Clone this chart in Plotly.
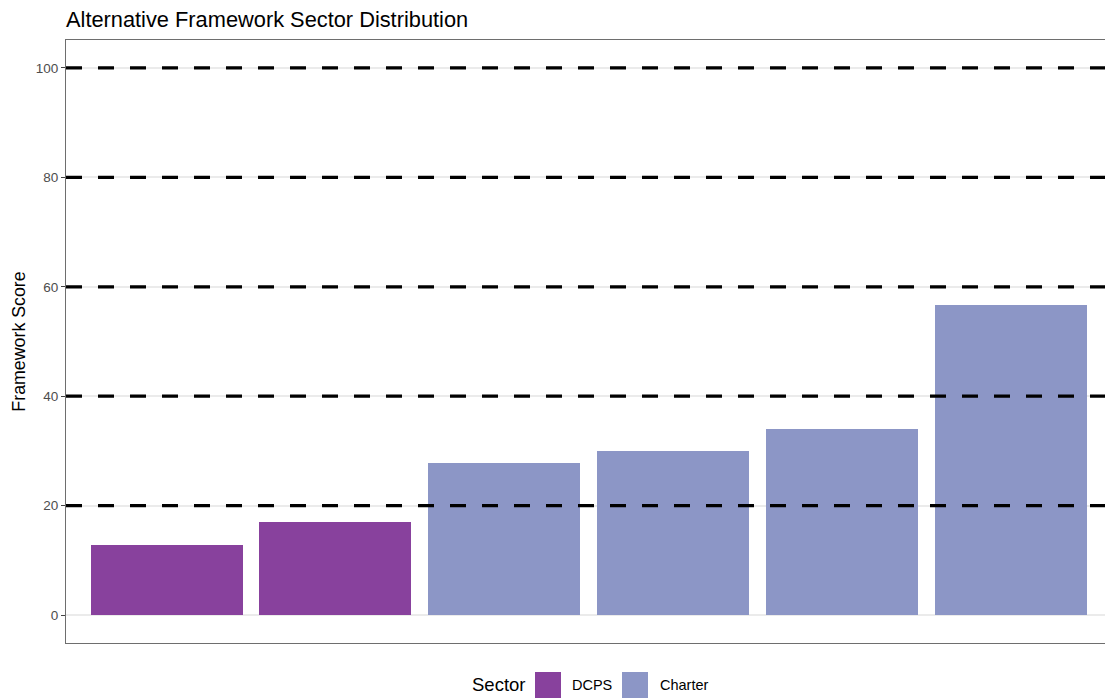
import plotly.graph_objects as go

# datos
escuelas = ["E1", "E2", "E3", "E4", "E5", "E6"]
puntajes = [12.85, 17.1, 27.8, 30.0, 34.1, 56.6]
sectores = ["DCPS", "DCPS", "Charter", "Charter", "Charter", "Charter"]
umbrales = [20, 40, 60, 80, 100]
y_ticks = [0, 20, 40, 60, 80, 100]

COLORES_SECTOR = {"DCPS": "#88419d", "Charter": "#8c96c6"}

FUENTE = "Liberation Sans, Arial, sans-serif"

fig = go.Figure()
for sector in COLORES_SECTOR:
    idx = [i for i, s in enumerate(sectores) if s == sector]
    fig.add_trace(go.Bar(
        x=[i for i in idx],
        y=[puntajes[i] for i in idx],
        name=sector,
        width=0.9,
        marker=dict(color=COLORES_SECTOR[sector], line=dict(width=0)),
        showlegend=False,
        hovertemplate="<b>" + sector + "</b><br>%{y:.1f}<extra></extra>",
    ))

# lineas de umbral discontinuas
for u in umbrales:
    fig.add_shape(type="line", xref="paper", yref="y", x0=0, x1=1, y0=u, y1=u,
                  line=dict(color="black", width=3.2, dash="16px,16px"), layer="above")

# leyenda manual (abajo, centrada)
W, H, L, T = 1039, 603, 66, 40


def px_x(p):
    return (p - L) / W


def px_y(p):
    return (T + H - p) / H


fig.add_annotation(text="Sector", xref="paper", yref="paper", x=px_x(470), y=px_y(685),
                   xanchor="left", yanchor="middle", showarrow=False,
                   font=dict(family=FUENTE, size=18.5, color="black"))
for x0, sector, xt in [(535, "DCPS", 570), (622, "Charter", 658)]:
    fig.add_shape(type="rect", xref="paper", yref="paper",
                  x0=px_x(x0), x1=px_x(x0 + 26), y0=px_y(672), y1=px_y(698),
                  fillcolor=COLORES_SECTOR[sector], line=dict(width=0))
    fig.add_annotation(text=sector, xref="paper", yref="paper", x=px_x(xt), y=px_y(685),
                       xanchor="left", yanchor="middle", showarrow=False,
                       font=dict(family=FUENTE, size=14.5, color="black"))

fig.update_layout(
    width=1105, height=698,
    paper_bgcolor="white", plot_bgcolor="white",
    font=dict(family=FUENTE, size=13.5, color="#4d4d4d"),
    margin=dict(l=L, r=0, t=T, b=698 - T - H),
    title=dict(text="Alternative Framework Sector Distribution", x=L / 1105, xanchor="left",
               y=1 - 19 / 698, yanchor="middle",
               font=dict(family=FUENTE, size=21.8, color="black")),
    bargap=0,
    xaxis=dict(range=[-0.595, 5.555], showticklabels=False, ticks="", showgrid=False,
               zeroline=False, showline=True, linecolor="#6e6e6e", linewidth=1, mirror=True),
    yaxis=dict(range=[-5.1, 105.1], tickvals=y_ticks, ticks="outside", ticklen=4,
               tickcolor="#444444", showgrid=True, gridcolor="#ebebeb", gridwidth=1.5,
               zeroline=False, showline=True, linecolor="#6e6e6e", linewidth=1, mirror=True,
               title=dict(text="Framework Score", standoff=5,
                          font=dict(family=FUENTE, size=17.8, color="black")),
               tickfont=dict(size=13.5, color="#4d4d4d")),
)

fig.write_html("out.html", config={"displayModeBar": False},
               post_script="document.body.style.margin='0';")
